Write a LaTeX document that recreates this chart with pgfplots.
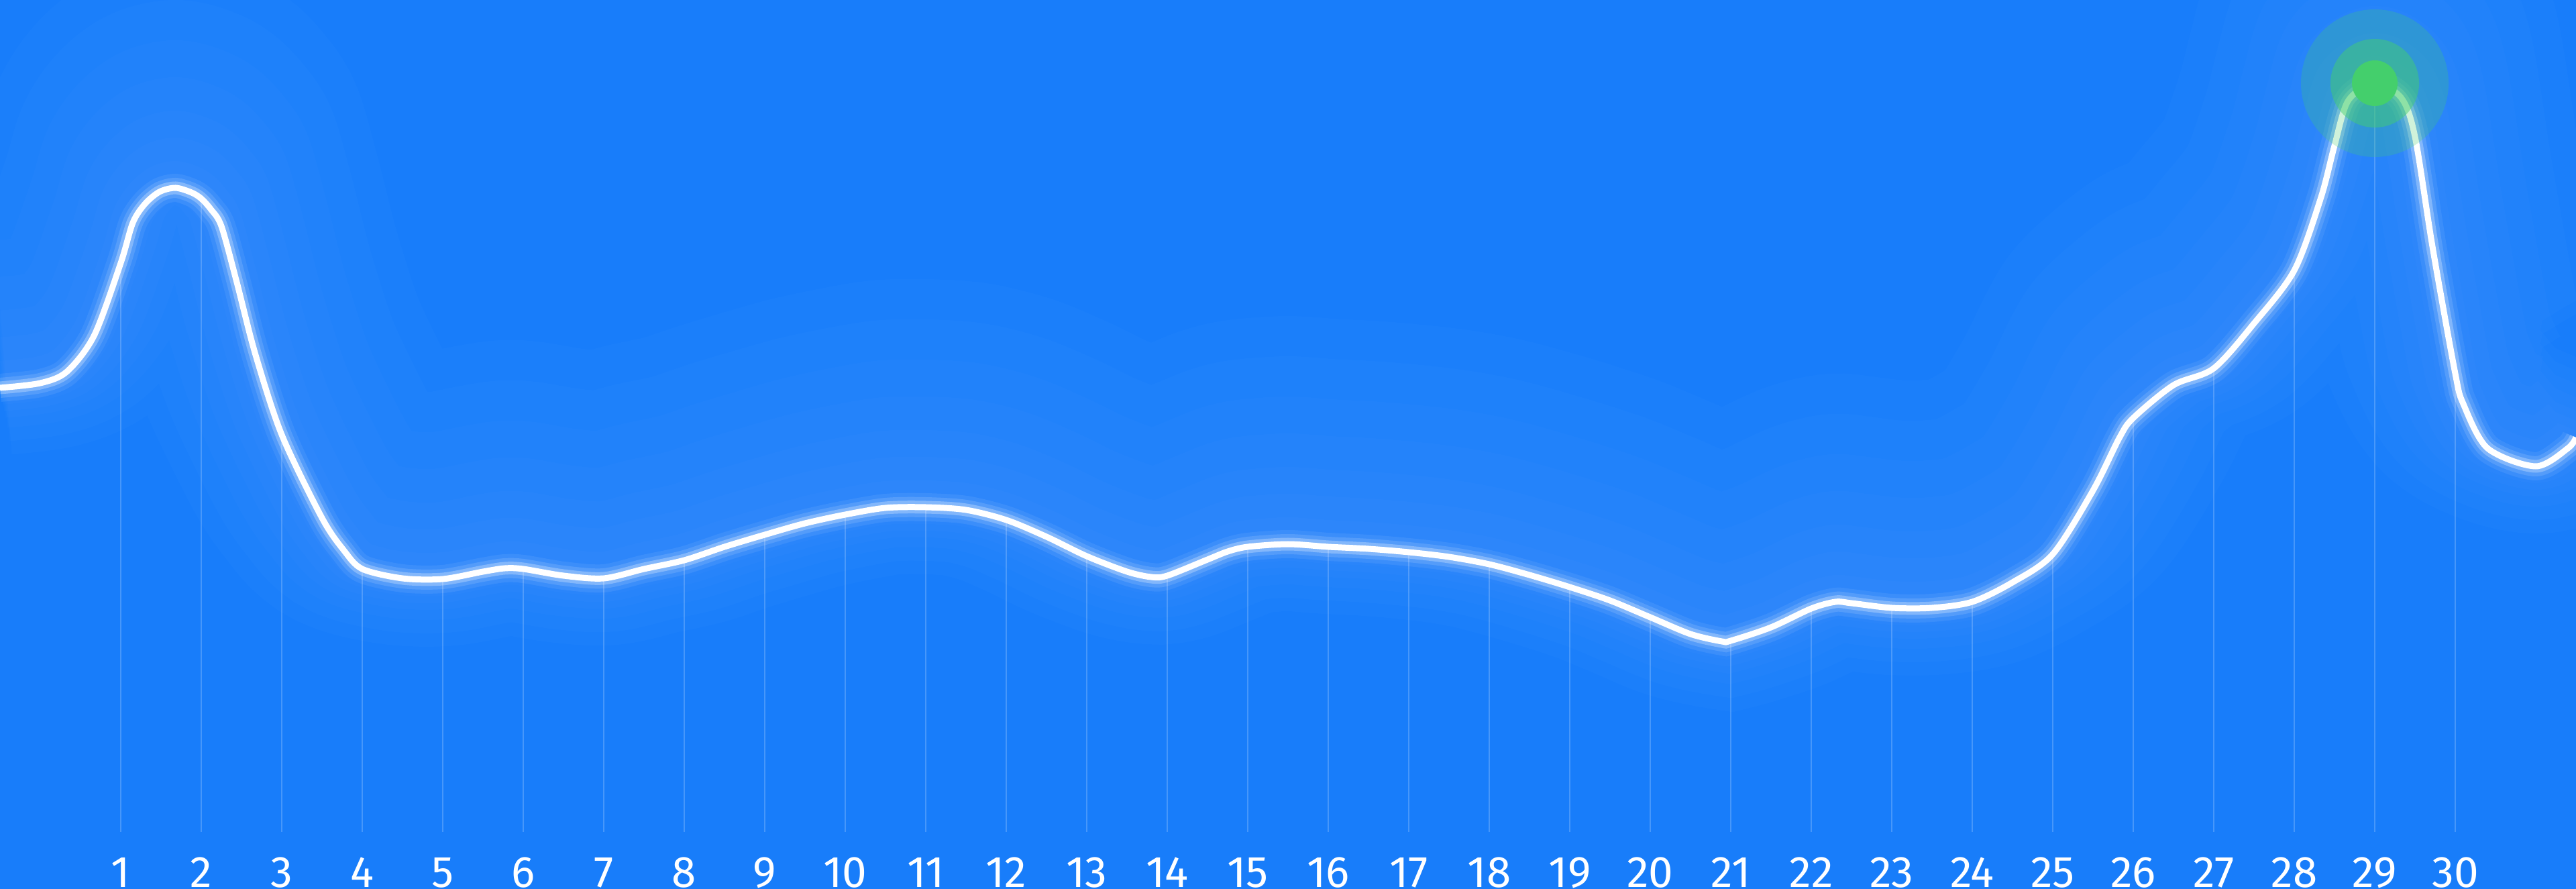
\documentclass[border=0pt]{standalone}
\usepackage{fontspec}
\setmainfont{Fira Sans}
\usepackage{pgfplots}
\pgfplotsset{compat=1.18}
\usepackage{pgfplotstable}

\definecolor{bgblue}{RGB}{24,125,250}
\definecolor{dotgreen}{RGB}{68,207,108}

% sampled curve (x in days, y in chart units)
\pgfplotstableread{
x y
-0.5 66.2
0 66.9
0.33 68.6
0.67 74.0
1 84.8
1.15 90.8
1.3 93.6
1.48 95.4
1.68 96.0
1.88 95.3
2 94.4
2.12 92.8
2.25 90.3
2.44 82.0
2.67 71.3
3 59.2
3.5 46.8
3.77 42.0
4 39.2
4.5 37.8
5 37.7
5.5 38.8
5.77 39.3
6 39.2
6.5 38.2
7 37.8
7.5 39.2
8 40.5
8.5 42.5
9 44.3
9.5 46.0
10 47.3
10.5 48.3
11 48.4
11.5 48.0
12 46.5
12.5 44.0
13 41.1
13.5 38.8
13.8 38.0
14 38.2
14.5 40.6
14.75 41.8
15 42.5
15.5 42.9
16 42.5
16.5 42.2
17 41.7
17.5 41.0
18 39.9
18.5 38.3
19 36.5
19.5 34.5
20 32.0
20.5 29.5
20.89 28.4
21 28.5
21.5 30.5
22 33.3
22.3 34.3
22.5 34.1
23 33.4
23.5 33.4
24 34.3
24.5 37.2
25 41.4
25.5 50.9
25.83 58.8
26 61.7
26.5 66.6
27 69.1
27.5 75.8
28 83.7
28.33 94.5
28.5 102.3
28.67 109.0
29 111.6
29.33 109.4
29.5 103.6
29.72 87.0
30 68.3
30.1 63.8
30.4 57.2
31 54.5
31.4 57.2
31.5 58.8
}\curvedata

% daily values
\pgfplotstableread{
day y
1 84.8
2 94.4
3 59.2
4 39.2
5 37.7
6 39.2
7 37.8
8 40.5
9 44.3
10 47.3
11 48.4
12 46.5
13 41.1
14 38.2
15 42.5
16 42.5
17 41.7
18 39.9
19 36.5
20 32.0
21 28.5
22 33.3
23 33.4
24 34.3
25 41.4
26 61.7
27 69.1
28 83.7
29 111.6
30 68.3
}\daydata

\pgfplotsset{
  curve/.style={smooth, tension=0.5, draw=white},
  haze/.style={curve, draw opacity=0.016, line width=#1},
}

\begin{document}
\begin{tikzpicture}
\begin{axis}[
  width=384bp, height=132.5bp, scale only axis,
  xmin=-0.5, xmax=31.5, ymin=-8.5, ymax=124,
  hide axis,
]
% background
\fill[bgblue] (rel axis cs:0,0) rectangle (rel axis cs:1,1);

% soft light spreading above the line
\addplot[haze=44bp, yshift=12bp] table[x=x,y=y]{\curvedata};
\addplot[haze=36bp, yshift=10bp] table[x=x,y=y]{\curvedata};
\addplot[haze=28bp, yshift=8bp] table[x=x,y=y]{\curvedata};
\addplot[haze=21bp, yshift=6bp] table[x=x,y=y]{\curvedata};
\addplot[haze=15bp, yshift=4bp] table[x=x,y=y]{\curvedata};
\addplot[haze=10bp, yshift=2.5bp] table[x=x,y=y]{\curvedata};
\addplot[haze=6bp, yshift=1bp] table[x=x,y=y]{\curvedata};

% day guide lines
\addplot[ycomb, draw=white, draw opacity=0.2, line width=0.25bp] table[x=day,y=y]{\daydata};

% glowing curve
\addplot[curve, draw opacity=0.07, line width=4.2bp] table[x=x,y=y]{\curvedata};
\addplot[curve, draw opacity=0.13, line width=3bp] table[x=x,y=y]{\curvedata};
\addplot[curve, draw opacity=0.28, line width=1.9bp] table[x=x,y=y]{\curvedata};
\addplot[curve, line width=0.9bp] table[x=x,y=y]{\curvedata};

% highlighted maximum
\addplot[only marks, mark=*, mark size=11bp, mark options={draw opacity=0, fill=dotgreen, fill opacity=0.25}] coordinates {(29,111.6)};
\addplot[only marks, mark=*, mark size=6.6bp, mark options={draw opacity=0, fill=dotgreen, fill opacity=0.47}] coordinates {(29,111.6)};
\addplot[only marks, mark=*, mark size=3.4bp, mark options={draw opacity=0, fill=dotgreen}] coordinates {(29,111.6)};

% day labels
\pgfplotsinvokeforeach{1,...,30}{
  \node[anchor=base, text=white, inner sep=0pt, font=\fontsize{6.6}{7}\selectfont] at (axis cs:#1,-8.2) {#1};
}
\end{axis}
\end{tikzpicture}
\end{document}
